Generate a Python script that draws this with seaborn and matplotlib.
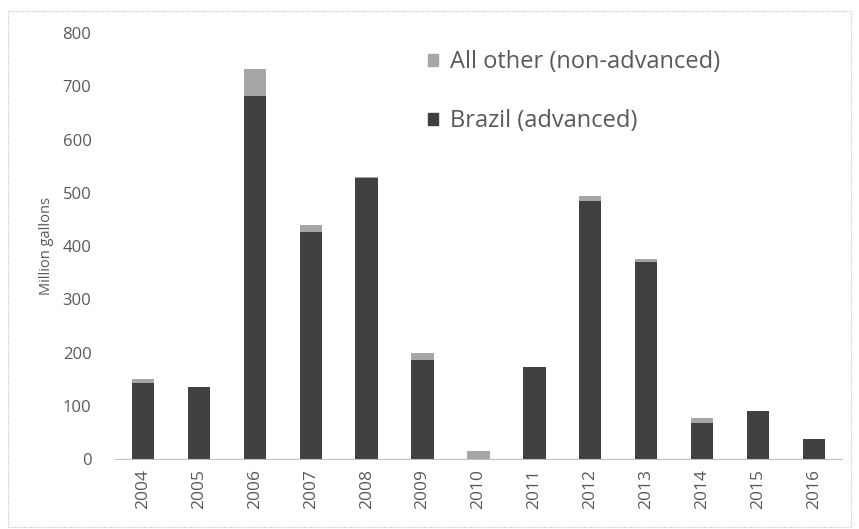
import matplotlib
matplotlib.use("Agg")
import matplotlib.pyplot as plt
import seaborn as sns
import pandas as pd
from matplotlib.patches import Rectangle, Patch

years = ["2004", "2005", "2006", "2007", "2008", "2009", "2010",
         "2011", "2012", "2013", "2014", "2015", "2016"]
brazil = [143, 135, 682, 426, 527, 186, 0, 172, 485, 370, 68, 90, 37]
other = [7, 0, 50, 13, 3, 13, 15, 0, 9, 6, 9, 0, 0]

sns.set_theme(style="white")
plt.rcParams['font.family'] = ['Open Sans', 'DejaVu Sans']

df = pd.DataFrame({"year": years, "brazil": brazil, "other": other})
df["total"] = df["brazil"] + df["other"]

dark = "#404040"
light = "#a6a6a6"
text_col = "#595959"

fig = plt.figure(figsize=(8.59, 5.29), dpi=100)
ax = fig.add_axes([0.134, 0.1323, 0.846, 0.8053])

sns.barplot(data=df, x="year", y="total", color=light, width=0.4,
            saturation=1, ax=ax, edgecolor="none")
sns.barplot(data=df, x="year", y="brazil", color=dark, width=0.4,
            saturation=1, ax=ax, edgecolor="none")

ax.set_ylim(0, 800)
ax.set_yticks(range(0, 801, 100))
ax.set_xlim(-0.5, len(years) - 0.5)
ax.set_xlabel("")
ax.set_ylabel("Million gallons", fontsize=10.5, color=text_col, labelpad=6)
ax.tick_params(axis="y", length=0, labelsize=12, labelcolor=text_col, pad=17)
ax.tick_params(axis="x", length=0, labelsize=12.5, labelcolor=text_col, pad=7,
               rotation=90)
for s in ["top", "right", "left"]:
    ax.spines[s].set_visible(False)
ax.spines["bottom"].set_color("#c0c0c0")
ax.spines["bottom"].set_linestyle((0, (2, 1)))
ax.spines["bottom"].set_linewidth(0.8)

handles = [Patch(color=light, label="All other (non-advanced)"),
           Patch(color=dark, label="Brazil (advanced)")]
ax.legend(handles=handles, loc="upper left", bbox_to_anchor=(0.402, 1.01),
          frameon=False, fontsize=17, labelcolor=text_col,
          handlelength=0.4, handleheight=0.4, handletextpad=0.5,
          labelspacing=1.5)

fig.patches.append(Rectangle((0.009, 0.004), 0.982, 0.975,
                             transform=fig.transFigure, fill=False,
                             edgecolor="#c8c8c8", linewidth=0.8,
                             linestyle=(0, (1, 1))))

fig.savefig("out.png", dpi=100)
